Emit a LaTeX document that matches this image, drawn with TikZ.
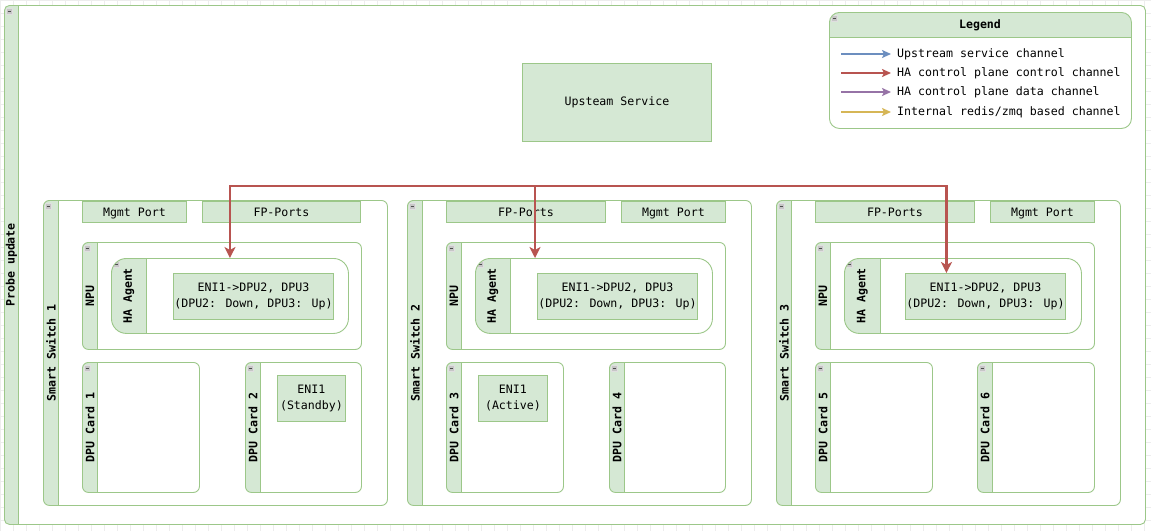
\documentclass[tikz,border=0pt]{standalone}
\usepackage{fontspec}
\setmainfont{DejaVu Sans Mono}
\usepackage{xcolor}
\usepackage{tikz}
\usetikzlibrary{arrows.meta, positioning}

\definecolor{lanefill}{HTML}{D5E8D4}
\definecolor{lanedraw}{HTML}{9CC789}
\definecolor{upblue}{HTML}{6C8EBF}
\definecolor{hared}{HTML}{B85450}
\definecolor{hapurple}{HTML}{9673A6}
\definecolor{redisyellow}{HTML}{D6B656}
\definecolor{gridcol}{HTML}{EDEDED}

\tikzset{
  % band width, title, corner radius
  lane/.style n args={3}{draw=lanedraw, line width=0.9pt, fill=white,
      rounded corners=#3, anchor=north west, inner sep=0pt,
      path picture={
        \fill[lanefill, sharp corners] (path picture bounding box.north west)
            rectangle ([xshift=#1]path picture bounding box.south west);
        \draw[lanedraw, line width=0.9pt, sharp corners]
            ([xshift=#1]path picture bounding box.north west)
            -- ([xshift=#1]path picture bounding box.south west);
        \node[lanetitle] at ([xshift=#1/2]path picture bounding box.west) {#2};
        \draw[fold, sharp corners] ([shift={(2pt,-3pt)}]path picture bounding box.north west)
            rectangle +(6pt,-6pt);
        \draw[black!70, line width=0.8pt] ([shift={(3.2pt,-6pt)}]path picture bounding box.north west)
            -- +(3.6pt,0);
      }},
  lanetitle/.style = {rotate=90, anchor=center, minimum width=0pt, minimum height=0pt,
      inner sep=1pt, draw=none, fill=none, font=\bfseries\fontsize{11.6pt}{14pt}\selectfont},
  fold/.style = {fill=gray!45, draw=gray!25, line width=0.6pt},
  box/.style = {draw=lanedraw, line width=0.9pt, fill=lanefill, anchor=north west,
      inner sep=0pt, align=center, font=\fontsize{11.6pt}{16pt}\selectfont},
  port/.style = {box, text height=10pt, text depth=1pt},
  legendbox/.style = {draw=lanedraw, line width=0.9pt, fill=white,
      rounded corners=10pt, anchor=north west, inner sep=0pt,
      path picture={
        \fill[lanefill, sharp corners] (path picture bounding box.north west)
            rectangle ([yshift=-25pt]path picture bounding box.north east);
        \draw[lanedraw, line width=0.9pt]
            ([yshift=-25pt]path picture bounding box.north west)
            -- ([yshift=-25pt]path picture bounding box.north east);
        \draw[fold, sharp corners] ([shift={(2pt,-3pt)}]path picture bounding box.north west)
            rectangle +(6pt,-6pt);
        \draw[black!70, line width=0.8pt] ([shift={(3.2pt,-6pt)}]path picture bounding box.north west)
            -- +(3.6pt,0);
      }},
  legtext/.style = {anchor=west, inner sep=3pt, font=\fontsize{11.6pt}{14pt}\selectfont},
  legarrow/.style = {line width=1.6pt, shorten >=3pt, -{Stealth[length=9pt, width=8pt, inset=2pt]}},
  hactl/.style = {draw=hared, line width=2.4pt, -{Stealth[length=11pt, width=11pt, inset=3pt]}}
}

\begin{document}
\begin{tikzpicture}[x=1pt, y=-1pt]

  \useasboundingbox (0,0) rectangle (1151,531);
  \fill[white] (0,0) rectangle (1151,531);
  \draw[gridcol, line width=0.4pt, step=13pt] (0,531) grid (1151,0);

  % Outer container
  \node (probe) [lane={14pt}{Probe update}{5pt}, minimum width=1141pt, minimum height=519pt] at (4,5) {};

  % Legend
  \node (lgd) [legendbox, minimum width=302pt, minimum height=116pt] at (829,12) {};
  \node (lgdtitle) [font=\bfseries\fontsize{11.6pt}{14pt}\selectfont] at (980,25) {Legend};
  \coordinate (l1s) at (841,54);
  \coordinate (l2s) at (841,73);
  \coordinate (l3s) at (841,92);
  \coordinate (l4s) at (841,112);
  \node (l1) [legtext] at (894,54) {Upstream service channel};
  \node (l2) [legtext] at (894,73) {HA control plane control channel};
  \node (l3) [legtext] at (894,92) {HA control plane data channel};
  \node (l4) [legtext] at (894,112) {Internal redis/zmq based channel};
  \draw[legarrow, upblue] (l1s) -- (l1);
  \draw[legarrow, hared] (l2s) -- (l2);
  \draw[legarrow, hapurple] (l3s) -- (l3);
  \draw[legarrow, redisyellow] (l4s) -- (l4);

  % Upstream
  \node (up) [box, minimum width=189pt, minimum height=78pt] at (522,63) {Upsteam Service};

  % Smart Switch 1
  \node (sw1) [lane={15pt}{Smart Switch 1}{6pt}, minimum width=344pt, minimum height=305pt] at (43,200) {};
  \node (mg1) [port, minimum width=104pt, minimum height=21pt] at (82,201) {Mgmt Port};
  \node (fp1) [port, minimum width=158pt, minimum height=21pt] at (202,201) {FP-Ports};
  \node (npu1) [lane={15pt}{NPU}{6pt}, minimum width=279pt, minimum height=107pt] at (82,242) {};
  \node (ha1) [lane={35pt}{HA Agent}{15pt}, minimum width=237pt, minimum height=75pt] at (111,258) {};
  \node (eni1) [box, minimum width=160pt, minimum height=46pt] at (173,273) {ENI1->DPU2, DPU3\\(DPU2: Down, DPU3: Up)};
  \node (dpu1) [lane={15pt}{DPU Card 1}{6pt}, minimum width=117pt, minimum height=130pt] at (82,362) {};
  \node (dpu2) [lane={15pt}{DPU Card 2}{6pt}, minimum width=116pt, minimum height=130pt] at (245,362) {};
  \node (sb2) [box, minimum width=68pt, minimum height=46pt] at (277,375) {ENI1\\(Standby)};

  % Smart Switch 2
  \node (sw2) [lane={15pt}{Smart Switch 2}{6pt}, minimum width=344pt, minimum height=305pt] at (407,200) {};
  \node (fp2) [port, minimum width=159pt, minimum height=21pt] at (446,201) {FP-Ports};
  \node (mg2) [port, minimum width=104pt, minimum height=21pt] at (621,201) {Mgmt Port};
  \node (npu2) [lane={15pt}{NPU}{6pt}, minimum width=279pt, minimum height=107pt] at (446,242) {};
  \node (ha2) [lane={35pt}{HA Agent}{15pt}, minimum width=237pt, minimum height=75pt] at (475,258) {};
  \node (eni2) [box, minimum width=160pt, minimum height=46pt] at (537,273) {ENI1->DPU2, DPU3\\(DPU2: Down, DPU3: Up)};
  \node (dpu3) [lane={15pt}{DPU Card 3}{6pt}, minimum width=117pt, minimum height=130pt] at (446,362) {};
  \node (ac3) [box, minimum width=69pt, minimum height=46pt] at (478,375) {ENI1\\(Active)};
  \node (dpu4) [lane={15pt}{DPU Card 4}{6pt}, minimum width=116pt, minimum height=130pt] at (609,362) {};

  % Smart Switch 3
  \node (sw3) [lane={15pt}{Smart Switch 3}{6pt}, minimum width=344pt, minimum height=305pt] at (776,200) {};
  \node (fp3) [port, minimum width=159pt, minimum height=21pt] at (815,201) {FP-Ports};
  \node (mg3) [port, minimum width=104pt, minimum height=21pt] at (990,201) {Mgmt Port};
  \node (npu3) [lane={15pt}{NPU}{6pt}, minimum width=279pt, minimum height=107pt] at (815,242) {};
  \node (ha3) [lane={36pt}{HA Agent}{15pt}, minimum width=237pt, minimum height=75pt] at (844,258) {};
  \node (eni3) [box, minimum width=160pt, minimum height=46pt] at (905,273) {ENI1->DPU2, DPU3\\(DPU2: Down, DPU3: Up)};
  \node (dpu5) [lane={15pt}{DPU Card 5}{6pt}, minimum width=117pt, minimum height=130pt] at (815,362) {};
  \node (dpu6) [lane={15pt}{DPU Card 6}{6pt}, minimum width=117pt, minimum height=130pt] at (977,362) {};

  % HA control channel
  \coordinate (hub) at (535,186);
  \draw[hactl] (hub) -| (ha1.north);
  \draw[hactl] (hub) -- (hub |- ha2.north);
  \draw[hactl] (hub) -| ([xshift=-39pt]eni3.north);

\end{tikzpicture}
\end{document}
